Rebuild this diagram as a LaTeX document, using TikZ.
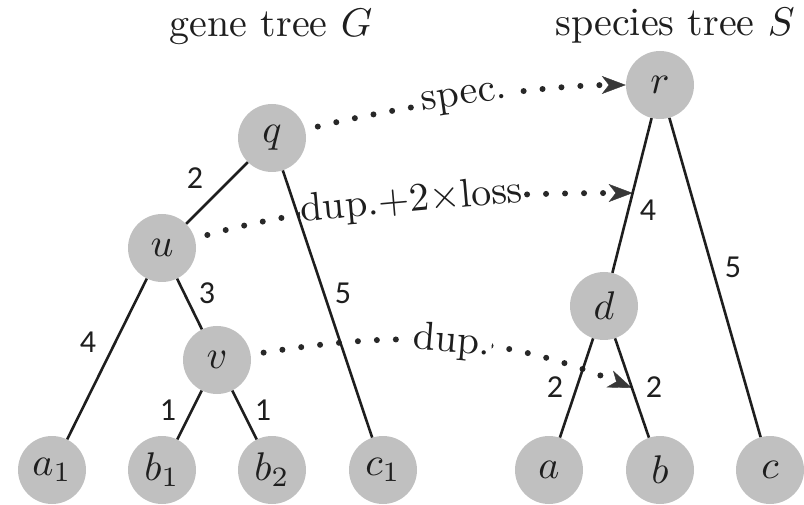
\documentclass[tikz,border=0pt]{standalone}
\usepackage{fontspec}
\usepackage{graphicx}
\newfontfamily\numfont{Carlito}
\usetikzlibrary{arrows.meta}
\definecolor{vgray}{RGB}{192,192,192}
\definecolor{ink}{RGB}{30,30,30}
\definecolor{dotc}{RGB}{40,40,40}
\definecolor{tipc}{RGB}{55,55,55}
% serif text at 10pt design size, enlarged four times
\newcommand\bigtxt[1]{\scalebox{4}{#1}}
\begin{document}
\begin{tikzpicture}[x=1pt,y=-1pt,
  vtx/.style={circle, fill=vgray, minimum size=68pt, inner sep=0pt, text=ink},
  edge/.style={line width=2.6pt, draw=ink},
  wt/.style={font=\numfont\fontsize{32}{34}\selectfont, text=ink, inner sep=0pt},
  maparrow/.style={draw=dotc, line width=6pt, line cap=round,
    dash pattern=on 0pt off 19pt, shorten <=13pt,
    -{Stealth[length=24pt,width=18pt,inset=7pt,line width=0.4pt,color=tipc]}},
  maplbl/.style={sloped, fill=white, inner sep=1pt, text=ink},
  title/.style={anchor=base, text=ink, inner sep=0pt}]
\useasboundingbox (0,0) rectangle (804,505);

% titles
\node[title] (tG) at (271,37) {\bigtxt{gene tree $G$}};
\node[title] (tS) at (675,36) {\bigtxt{species tree $S$}};

% gene tree vertices
\node[vtx] (q)  at (272,138) {\bigtxt{$q$}};
\node[vtx] (u)  at (162,248) {\bigtxt{$u$}};
\node[vtx] (v)  at (217,360) {\bigtxt{$v$}};
\node[vtx] (a1) at (52,470)  {\bigtxt{$a_1$}};
\node[vtx] (b1) at (162,470) {\bigtxt{$b_1$}};
\node[vtx] (b2) at (272,470) {\bigtxt{$b_2$}};
\node[vtx] (c1) at (383,470) {\bigtxt{$c_1$}};

% species tree vertices
\node[vtx] (r) at (660,85)  {\bigtxt{$r$}};
\node[vtx] (d) at (604,306) {\bigtxt{$d$}};
\node[vtx] (a) at (549,470) {\bigtxt{$a$}};
\node[vtx] (b) at (660,470) {\bigtxt{$b$}};
\node[vtx] (c) at (770,470) {\bigtxt{$c$}};

% mapping targets on species edges
\path (r) -- (d) coordinate[pos=0.484] (rd);
\path (d) -- (b) coordinate[pos=0.5] (db);

% mappings
\draw[maparrow] (q) to[out=14,in=180,looseness=0.7]
  node[maplbl,pos=0.5] (lspec) {\bigtxt{spec.}} (r);
\draw[maparrow] (u) to[out=16,in=180,looseness=0.8]
  node[maplbl,pos=0.5] (lloss) {\bigtxt{dup.$+2\times$loss}} (rd);
\draw[maparrow] (v) to[out=9,in=158]
  node[maplbl,pos=0.52] (ldup) {\bigtxt{dup.}} (db);

% gene tree edges
\draw[edge] (q) -- (u);
\draw[edge] (q) -- (c1);
\draw[edge] (u) -- (a1);
\draw[edge] (u) -- (v);
\draw[edge] (v) -- (b1);
\draw[edge] (v) -- (b2);

% species tree edges
\draw[edge] (r) -- (d);
\draw[edge] (r) -- (c);
\draw[edge] (d) -- (a);
\draw[edge] (d) -- (b);

% edge weights
\node[wt] (w1) at (195,178) {2};
\node[wt] (w2) at (343,293) {5};
\node[wt] (w3) at (88,342)  {4};
\node[wt] (w4) at (207,293) {3};
\node[wt] (w5) at (168,410) {1};
\node[wt] (w6) at (263,410) {1};
\node[wt] (w7) at (648,210) {4};
\node[wt] (w8) at (733,267) {5};
\node[wt] (w9) at (555,387) {2};
\node[wt] (w10) at (654,387) {2};
\end{tikzpicture}
\end{document}
